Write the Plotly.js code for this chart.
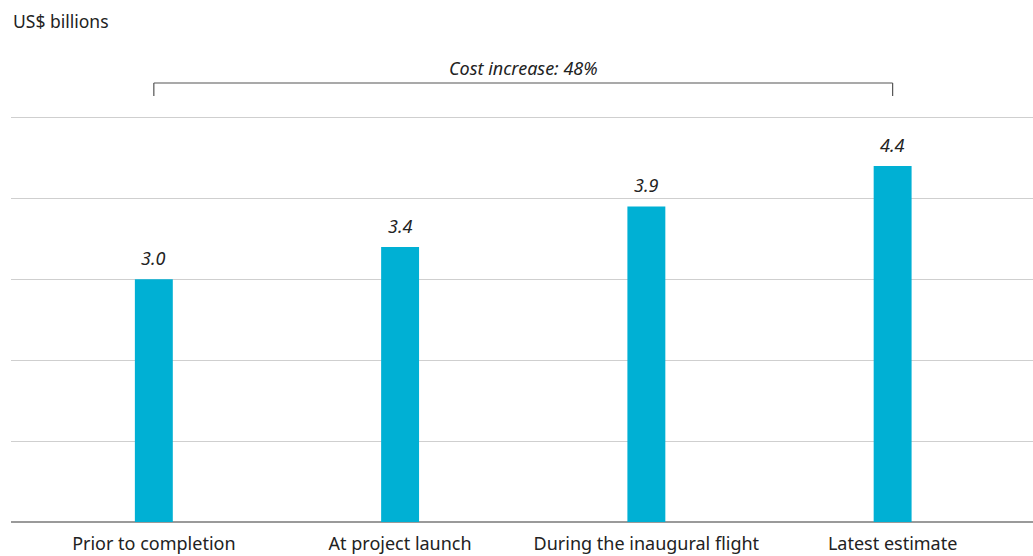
<!DOCTYPE html>
<html>
<head>
<meta charset="utf-8">
<script src="https://cdn.plot.ly/plotly-3.0.1.min.js"></script>
<style>html,body{margin:0;padding:0;background:#fff}#chart{width:1033px;height:556px}</style>
</head>
<body>
<div id="chart"></div>
<script>
const categories = ["Prior to completion", "At project launch", "During the inaugural flight", "Latest estimate"];
const costs = [3.0, 3.4, 3.9, 4.4];
const valueLabels = ["3.0", "3.4", "3.9", "4.4"];
const bracketLabel = "Cost increase: 48%";
const unitLabel = "US$ billions";

const FONT = "Noto Sans, Lato, sans-serif";
const trace = {
  type: "bar",
  x: categories,
  y: costs,
  width: 0.154,
  marker: {color: "#00b0d4"},
  hoverinfo: "none"
};

const annotations = categories.map((c, i) => ({
  x: c, y: costs[i], xref: "x", yref: "y",
  text: "<i>" + valueLabels[i] + "</i>",
  showarrow: false, yanchor: "bottom", yshift: 7,
  font: {family: FONT, size: 18, color: "#222"}
}));
annotations.push({
  x: 1.5, y: 1.0786, xref: "x", yref: "paper",
  text: "<i>" + bracketLabel + "</i>", showarrow: false, yanchor: "bottom", yshift: 1,
  font: {family: FONT, size: 18, color: "#222"}
});
annotations.push({
  x: 0, y: 1.265, xref: "paper", yref: "paper", xanchor: "left", yanchor: "top",
  text: unitLabel, showarrow: false,
  font: {family: FONT, size: 17.5, color: "#222"}
});

const layout = {
  width: 1033, height: 556,
  margin: {l: 11, r: 0, t: 115, b: 34},
  paper_bgcolor: "#fff", plot_bgcolor: "#fff",
  showlegend: false,
  font: {family: FONT, color: "#222"},
  xaxis: {
    type: "category", range: [-0.58, 3.57], showgrid: false, zeroline: false,
    showline: false, ticks: "", ticklabelstandoff: 9,
    tickfont: {family: FONT, size: 18, color: "#222"},
    fixedrange: true
  },
  yaxis: {
    range: [0, 5.03], tickvals: [0, 1, 2, 3, 4, 5], showticklabels: false,
    showgrid: true, gridcolor: "#cfcfcf", gridwidth: 1,
    zeroline: true, zerolinecolor: "#9a9a9a", zerolinewidth: 2, showline: false,
    fixedrange: true
  },
  shapes: [
    {type: "line", xref: "x", yref: "paper", x0: categories[0], x1: categories[3], y0: 1.0786, y1: 1.0786, line: {color: "#555", width: 1.2}},
    {type: "line", xref: "x", yref: "paper", x0: categories[0], x1: categories[0], y0: 1.0467, y1: 1.0786, line: {color: "#555", width: 1.2}},
    {type: "line", xref: "x", yref: "paper", x0: categories[3], x1: categories[3], y0: 1.0467, y1: 1.0786, line: {color: "#555", width: 1.2}}
  ],
  annotations: annotations
};
Plotly.newPlot("chart", [trace], layout, {displayModeBar: false, staticPlot: true});
</script>
</body>
</html>
